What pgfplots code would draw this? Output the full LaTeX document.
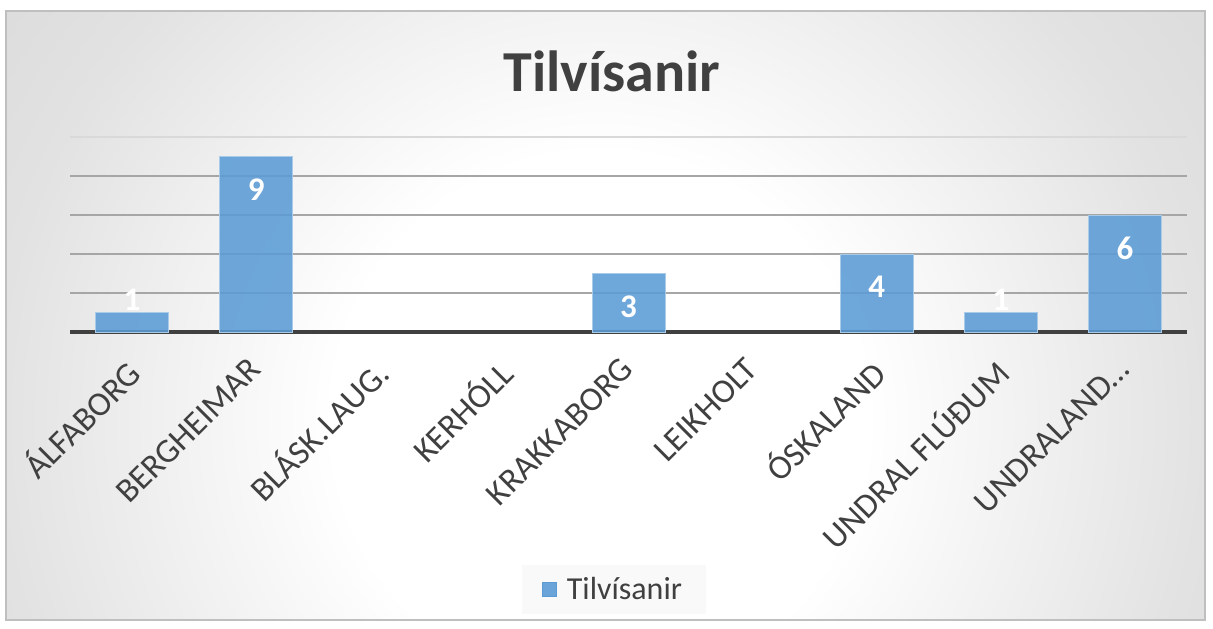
\documentclass[border=0pt]{standalone}
\usepackage{fontspec}
\setmainfont{Carlito}
\usepackage{pgfplots}
\pgfplotsset{compat=1.18}
\definecolor{barblue}{HTML}{5B9BD5}
\definecolor{baredge}{HTML}{A9CBEA}
\definecolor{inkgray}{HTML}{404040}
\definecolor{gridgray}{HTML}{A6A6A6}
\definecolor{gridlight}{HTML}{D9D9D9}
\definecolor{framegray}{HTML}{BFBFBF}
\definecolor{bgmid}{HTML}{E2E2E2}
\definecolor{bgedge}{HTML}{C6C6C6}
\definecolor{bgcorner}{HTML}{BCBCBC}
\pgfdeclareradialshading{chartbg}{\pgfpoint{0bp}{0bp}}{color(0bp)=(white); color(11bp)=(white); color(25bp)=(bgmid); color(50bp)=(bgedge); color(62bp)=(bgcorner); color(80bp)=(bgcorner)}

\begin{document}
\begin{tikzpicture}
% background, in pixel units of the reference
\begin{scope}[x=0.5pt, y=-0.5pt]
\path[use as bounding box] (0,0) rectangle (1213,628);
\fill[white] (0,0) rectangle (1213,628);
\begin{scope}
\clip (6,11) rectangle (1205,620);
\shade[shading=chartbg] (-6.5,-186.5) rectangle (1206.5,1026.5);
\end{scope}
\draw[framegray, line width=0.75pt] (6,11) rectangle (1205,620);
\node[font=\fontsize{29}{34}\selectfont\bfseries, text=inkgray] at (612,71) {Tilvísanir};
\end{scope}

\begin{axis}[
    at={(35pt,-166pt)}, anchor=south west,
    scale only axis,
    width=558.5pt, height=97.5pt,
    xmin=-0.5, xmax=8.5,
    ymin=0, ymax=10,
    /pgf/number format/assume math mode=true,
    xtick={0,...,8},
    xticklabels={ÁLFABORG,BERGHEIMAR,BLÁSK.LAUG.,KERHÓLL,KRAKKABORG,LEIKHOLT,ÓSKALAND,UNDRAL FLÚÐUM,UNDRALAND…},
    xticklabel style={font=\fontsize{17}{20}\selectfont, text=inkgray, inner sep=0pt, xshift=-4.5pt, yshift=-11.8pt, rotate=45, anchor=north east},
    ytick={2,4,6,8},
    extra y ticks={10},
    extra y tick style={grid style={gridlight, line width=0.75pt}},
    yticklabels={}, extra y tick labels={},
    tick style={draw=none},
    ymajorgrids=true,
    grid style={gridgray, line width=0.75pt},
    axis x line*=bottom, axis y line*=left,
    x axis line style={inkgray, line width=1.6pt},
    y axis line style={draw=none},
    legend style={
        at={(0.487,-1.32)}, anchor=center,
        fill=gray!6, fill opacity=0.7, text opacity=1, draw=none,
        font=\fontsize{16}{19}\selectfont, text=inkgray,
        inner xsep=10pt, inner ysep=4pt,
        /tikz/every odd column/.append style={column sep=3pt},
    },
    legend image code/.code={\fill[barblue, fill opacity=0.9] (0pt,-3.5pt) rectangle (7pt,3.5pt);},
]
\addplot[ybar, bar width=36.5pt, fill=barblue, fill opacity=0.88, draw=baredge, line width=0.5pt,
    nodes near coords,
    every node near coord/.append style={font=\fontsize{16.5}{19}\selectfont\bfseries, text=white, text opacity=1, inner sep=0pt, anchor=center, yshift=-16.5pt},
    coordinate style/.condition={y<2}{yshift=23pt},
] coordinates {(0,1) (1,9) (4,3) (6,4) (7,1) (8,6)};
\addlegendentry{Tilvísanir}
\end{axis}
\end{tikzpicture}
\end{document}
